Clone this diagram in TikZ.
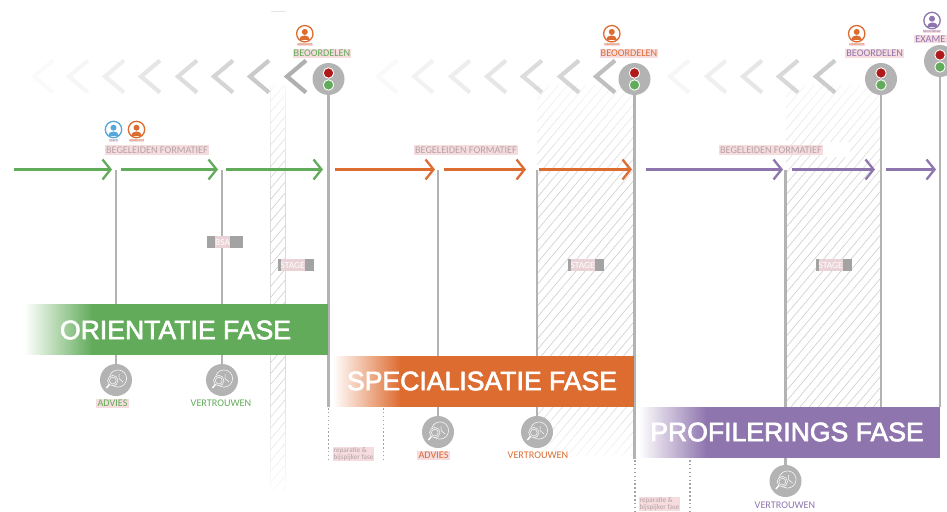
\documentclass[tikz,border=0pt]{standalone}
\usepackage{xcolor}
\usepackage{fontspec}
\setmainfont{Carlito}
\newfontfamily\barfont[FakeBold=2.5]{Liberation Sans}
\usetikzlibrary{arrows.meta,patterns.meta,fadings}

\definecolor{fasegreen}{HTML}{62AB5A}
\definecolor{faseorange}{HTML}{DD6C31}
\definecolor{fasepurple}{HTML}{8F75AE}
\definecolor{facblue}{HTML}{55A8DC}
\definecolor{stemgray}{HTML}{B3B3B3}
\definecolor{boxgray}{HTML}{A3A3A3}
\definecolor{tagpink}{HTML}{F6DCDF}
\definecolor{tiptext}{HTML}{B3A3A6}

\tikzfading[name=fadetop, top color=transparent!0, bottom color=transparent!100]
\tikzfading[name=fadebottom, top color=transparent!100, bottom color=transparent!0]

\tikzset{
    stem/.style={draw=stemgray, line width=2.6pt},
    flow/.style={line width=2.2pt, -{Straight Barb[length=8pt,width=20pt,line width=2.3pt]}},
    chev/.style={draw=gray, line width=4.2pt},
    hatchzone/.style={pattern={Lines[angle=50,distance=7pt,line width=0.6pt]}, pattern color=black!20},
    light/.style={circle, fill=stemgray, minimum size=32pt, inner sep=0pt},
    lens/.style={circle, fill=stemgray, minimum size=32pt, inner sep=0pt},
    tag/.style={fill=tagpink, inner sep=1.2pt, font=\fontsize{10.2}{11}\selectfont},
    plain/.style={inner sep=1pt, font=\fontsize{10.2}{11}\selectfont},
    tiny/.style={fill=tagpink, inner sep=0.4pt, font=\fontsize{3.6}{4}\selectfont},
    small/.style={fill=tagpink, inner sep=0.5pt, align=left, text=tiptext, font=\fontsize{7.2}{7.4}\selectfont},
    bartitle/.style={text=white, inner sep=0pt, font=\barfont\fontsize{26.6}{28}\selectfont},
    grayflag/.style={fill=boxgray, minimum width=36pt, minimum height=12pt, inner sep=0pt},
    flagtext/.style={fill=tagpink!85!boxgray, inner sep=0pt, minimum height=12pt, text=white, font=\fontsize{9.4}{10}\selectfont},
    dots/.style={draw=boxgray, line width=1.5pt, dash pattern=on 1.5pt off 2.4pt}
}

% traffic light: name, x, y
\newcommand{\signal}[3]{
    \node[light] (#1) at (#2,#3) {};
    \fill[red!65!black!90, draw=white, line width=0.9pt] (#2,#3-6) circle (5.2pt);
    \fill[fasegreen, draw=white, line width=0.9pt] (#2,#3+6) circle (5.2pt);
}

% teacher icon: x, y, colour, caption
\newcommand{\person}[4]{
    \begin{scope}[shift={(#1,#2)}]
        \draw[#3, fill=white, line width=1.3pt] (0,0) circle (8.2pt);
        \fill[#3] (0,-1.8) circle (3pt);
        \fill[#3] (-5.5,6.6) .. controls (-5.5,0.8) and (5.5,0.8) .. (5.5,6.6) -- cycle;
        \node[tiny, text=#3] at (0,10.7) {#4};
    \end{scope}
}

% magnifier over a clock: name, x, y
\newcommand{\looking}[3]{
    \node[lens] (#1) at (#2,#3) {};
    \begin{scope}[shift={(#2,#3)}]
        \draw[white, line width=0.5pt] (2,-1.5) circle (8.6pt);
        \draw[white, line width=0.5pt, fill=stemgray] (-3.2,0.6) circle (5.2pt);
        \draw[white, line width=0.5pt] (-3.2,0.6) circle (3.4pt);
        \draw[white, line width=1.4pt] (-6.6,4.4) -- (-9.6,8);
        \draw[white, line width=0.5pt] (3,-6) -- (3,-1.5) -- (7,2);
    \end{scope}
}

% phase bar with a soft left end: left x, top y, right x, colour
\newcommand{\phasebar}[4]{
    \fill[#4] (#1+68,#2) rectangle (#3,#2+51);
    \foreach \i in {0,...,34}
        \pgfmathsetmacro{\tint}{\i*100/34}
        \fill[#4!\tint!white] (#1+2*\i,#2) rectangle (#1+68.5,#2+51);
}

\begin{document}
\begin{tikzpicture}[x=1pt,y=-1pt]
    \useasboundingbox (0,0) rectangle (947,511);

    % Hatched stage zones
    \fill[hatchzone] (270.5,85) rectangle (285.5,490);
    \draw[black!14, line width=0.5pt] (270.5,85) -- (270.5,490) (285.5,85) -- (285.5,490);
    \fill[white, path fading=fadetop] (269,55) rectangle (287,195);
    \fill[white, path fading=fadebottom] (269,365) rectangle (287,505);
    \fill[black!10] (270.5,11.5) rectangle (285.5,12.5);
    \fill[hatchzone] (537,85) rectangle (634,455);
    \fill[white, path fading=fadetop] (535,55) rectangle (634,195);
    \fill[white, path fading=fadebottom] (535,385) rectangle (634,472);
    \fill[hatchzone] (786,85) rectangle (881,407);
    \fill[white, path fading=fadetop] (784,55) rectangle (881,195);

    % Chevrons going back
    \foreach \tipx/\fade in {34/0.04,69/0.07,105/0.13,141/0.2,178/0.27,214/0.33,250/0.42,287/0.62}
        \draw[chev, opacity=\fade] (\tipx+19,60.5) -- (\tipx,76.5) -- (\tipx+19,92.5);
    \foreach \tipx/\fade in {378/0.05,414/0.1,451/0.14,487/0.2,523/0.27,560/0.33,596/0.5}
        \draw[chev, opacity=\fade] (\tipx+19,60.5) -- (\tipx,76.5) -- (\tipx+19,92.5);
    \foreach \tipx/\fade in {670/0.07,707/0.13,743/0.2,779/0.3,816/0.4}
        \draw[chev, opacity=\fade] (\tipx+19,60.5) -- (\tipx,76.5) -- (\tipx+19,92.5);

    % Signals
    \signal{signalA}{328.5}{79}
    \signal{signalB}{634.5}{79}
    \signal{signalC}{881}{79}
    \signal{signalD}{940}{61}

    % Magnifiers
    \looking{lensA}{116}{380}
    \looking{lensB}{222}{380}
    \looking{lensC}{438}{432}
    \looking{lensD}{537}{432}
    \looking{lensE}{785.5}{481}

    % Stems
    \coordinate (stemA) at (116,170);
    \coordinate (stemB) at (222,170);
    \coordinate (stemC) at (438,170);
    \coordinate (stemD) at (537,170);
    \coordinate (stemE) at (785.5,170);
    \coordinate (footA) at (328.5,407);
    \coordinate (footB) at (634.5,459);
    \coordinate (footC) at (881,407);
    \coordinate (footD) at (940,407);
    \draw[stem] (stemA) -- (lensA);
    \draw[stem] (stemB) -- (lensB);
    \draw[stem] (stemC) -- (lensC);
    \draw[stem] (stemD) -- (lensD);
    \draw[stem] (stemE) -- (lensE);
    \draw[stem] (signalA) -- (footA);
    \draw[stem] (signalB) -- (footB);
    \draw[stem] (signalC) -- (footC);
    \draw[stem] (signalD) -- (footD);

    % Flow arrows
    \foreach \n/\from/\to/\col in {a/14/112/fasegreen, b/121/218/fasegreen, c/226/323/fasegreen,
        d/335/435/faseorange, e/444/526/faseorange, f/539/632/faseorange,
        g/646/783/fasepurple, h/792/875/fasepurple, i/886/936/fasepurple} {
        \coordinate (from\n) at (\from,169.5);
        \coordinate (to\n) at (\to,169.5);
        \draw[flow, \col] (from\n) -- (to\n);
    }

    % Phase bars
    \phasebar{24}{304}{328}{fasegreen}
    \phasebar{332}{356}{634}{faseorange}
    \phasebar{638}{407}{940}{fasepurple}
    \node[bartitle] (barA) at (175.5,330) {ORIENTATIE FASE};
    \node[bartitle] (barB) at (482,381) {SPECIALISATIE FASE};
    \node[bartitle] (barC) at (787,432) {PROFILERINGS FASE};

    % Teachers
    \person{113.5}{129.5}{facblue}{coach}
    \person{136.5}{129.5}{faseorange}{vakdocent}
    \person{304.8}{33.7}{faseorange}{vakdocent}
    \person{611.8}{33.7}{faseorange}{vakdocent}
    \person{856.7}{33.7}{faseorange}{vakdocent}
    \person{932}{20.5}{fasepurple}{beoordelaar}

    % Assessment labels
    \node[tag, text=fasegreen] (judgeA) at (322,53.3) {BEOORDELEN};
    \node[tag, text=faseorange] (judgeB) at (629,53.3) {BEOORDELEN};
    \node[tag, text=fasepurple] (judgeC) at (874.7,53.3) {BEOORDELEN};
    \node[tag, text=fasepurple, anchor=east] (judgeD) at (946.7,39) {EXAME};

    % Formative labels
    \fill[white] (822,142) rectangle (850,157);
    \node[tag, text=tiptext] (guideA) at (157,150) {BEGELEIDEN FORMATIEF};
    \node[tag, text=tiptext] (guideB) at (466,150) {BEGELEIDEN FORMATIEF};
    \node[tag, text=tiptext] (guideC) at (771,150) {BEGELEIDEN FORMATIEF};

    % Flags
    \node[grayflag, anchor=west] (bsa) at (207,242) {};
    \node[flagtext, anchor=west] (bsaText) at (215,242) {BSA};
    \node[grayflag, anchor=west] (stageA) at (278,265) {};
    \node[flagtext, anchor=west] (stageAText) at (280.5,265) {STAGE};
    \node[grayflag, anchor=west] (stageB) at (568,265) {};
    \node[flagtext, anchor=west] (stageBText) at (570.5,265) {STAGE};
    \node[grayflag, anchor=west] (stageC) at (816,265) {};
    \node[flagtext, anchor=west] (stageCText) at (818.5,265) {STAGE};

    % Labels under the magnifiers
    \node[tag, text=fasegreen] (adviceA) at (112.5,403.5) {ADVIES};
    \node[plain, text=fasegreen] (trustA) at (221,403.5) {VERTROUWEN};
    \node[tag, text=faseorange] (adviceB) at (433.5,455.5) {ADVIES};
    \node[plain, text=faseorange] (trustB) at (538,455.5) {VERTROUWEN};
    \node[plain, text=fasepurple] (trustC) at (785,505.5) {VERTROUWEN};

    % Repair weeks
    \coordinate (dotA) at (328.5,408);
    \coordinate (dotAend) at (328.5,460);
    \coordinate (dotB) at (383.5,408);
    \coordinate (dotBend) at (383.5,460);
    \coordinate (dotC) at (635,460);
    \coordinate (dotCend) at (635,511);
    \coordinate (dotD) at (690,460);
    \coordinate (dotDend) at (690,511);
    \draw[dots] (dotA) -- (dotAend);
    \draw[dots] (dotB) -- (dotBend);
    \draw[dots] (dotC) -- (dotCend);
    \draw[dots] (dotD) -- (dotDend);
    \node[small, anchor=north west] (repairA) at (333,446.5) {reparatie \&\\bijspijker fase};
    \node[small, anchor=north west] (repairB) at (639,496.5) {reparatie \&\\bijspijker fase};
\end{tikzpicture}
\end{document}
